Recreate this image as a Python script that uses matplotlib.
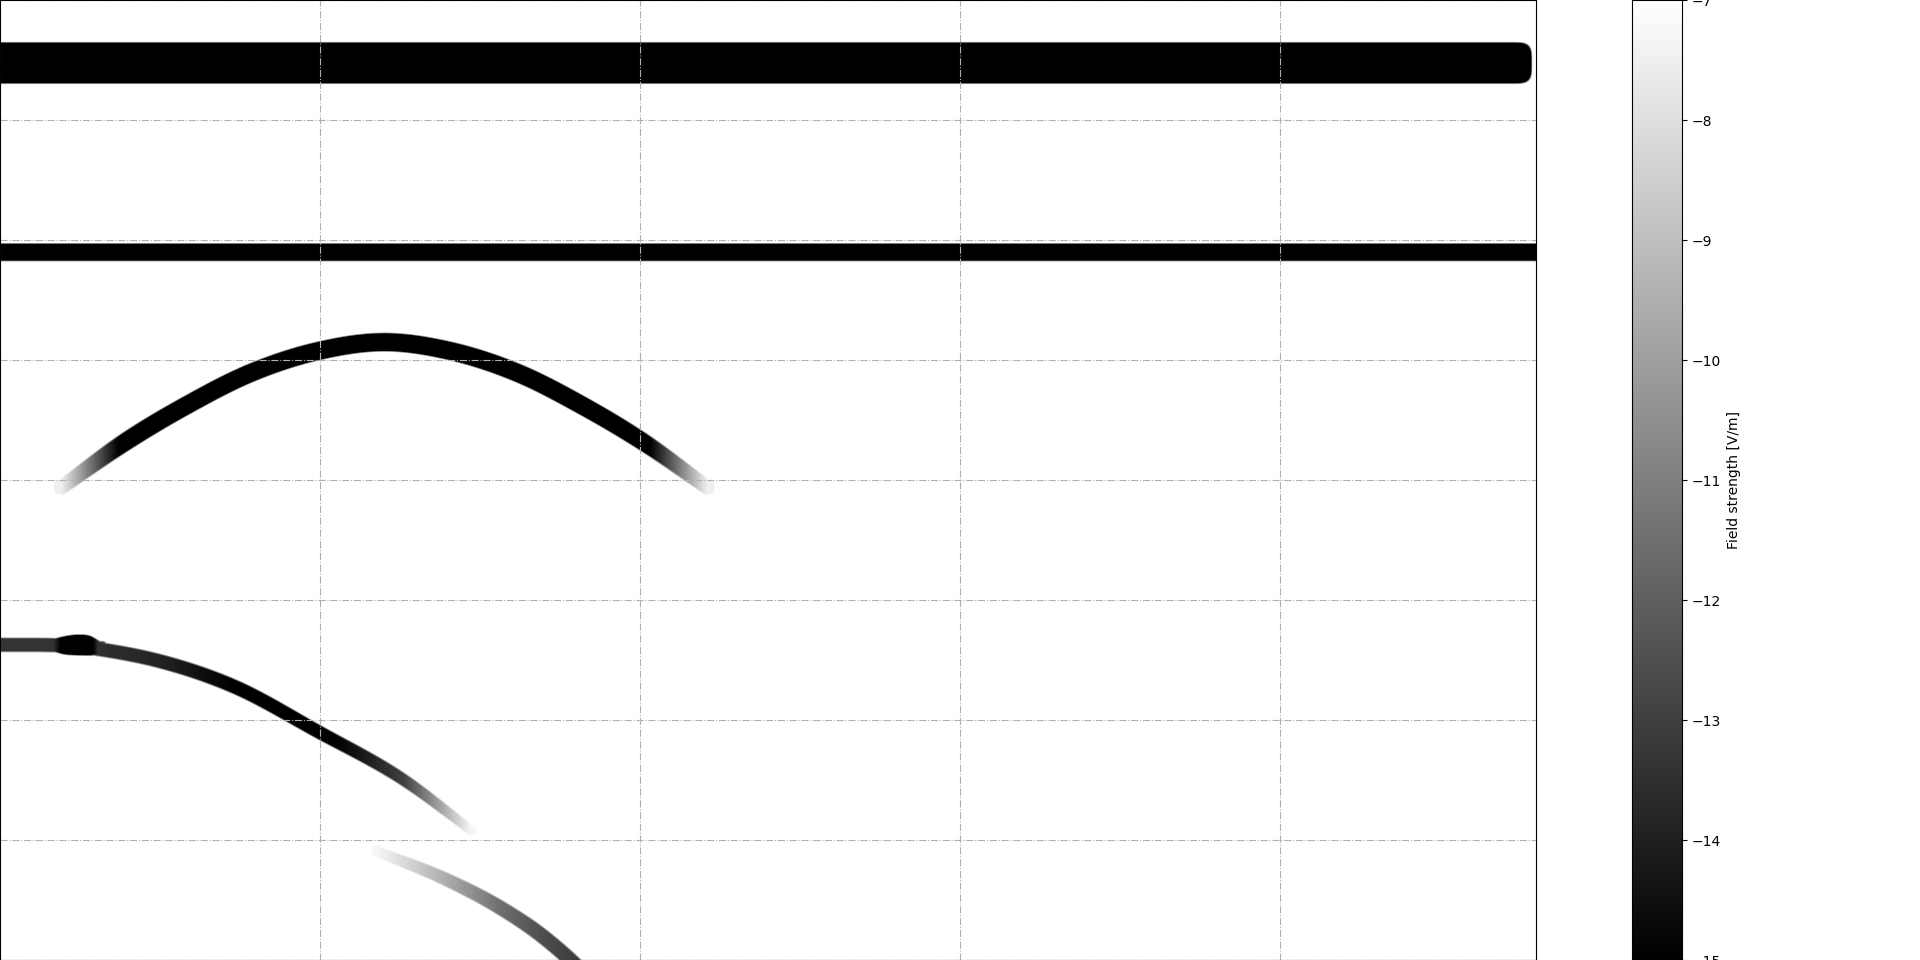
import numpy as np
import matplotlib
matplotlib.use("Agg")
import matplotlib.pyplot as plt

# axis ranges and background level of the field map
x_lim = (0.0, 24.0)
y_lim = (0.0, 8.0)
background_level = -7.0
cbar_range = (-15.0, -7.0)

# mode traces: centre line, half width (y units), level at centre
top_band_x = [0.0, 23.62]
top_band_y = [7.479, 7.479]
top_band_w = [0.171, 0.171]
top_band_lvl = [-16.0, -16.0]

mid_band_x = [0.0, 24.0]
mid_band_y = [5.90, 5.90]
mid_band_w = [0.072, 0.072]
mid_band_lvl = [-16.0, -16.0]

arc_x = [0.95, 1.9, 2.9, 3.9, 5.0, 6.0, 7.0, 8.1, 9.1, 10.1, 11.05]
arc_y = [3.94, 4.30, 4.62, 4.89, 5.08, 5.15, 5.08, 4.89, 4.62, 4.30, 3.94]
arc_w = [0.06, 0.074, 0.075, 0.075, 0.075, 0.075, 0.075, 0.075, 0.075, 0.072, 0.06]
arc_lvl = [-7.5, -15.5, -16.5, -16.5, -16.5, -16.5, -16.5, -16.5, -16.5, -15.5, -7.5]

low_x = [0.0, 0.85, 1.2, 1.53, 2.48, 3.64, 4.97, 6.3, 7.36]
low_y = [2.625, 2.622, 2.615, 2.59, 2.49, 2.28, 1.90, 1.50, 1.08]
low_w = [0.058, 0.058, 0.058, 0.058, 0.058, 0.058, 0.055, 0.05, 0.04]
low_lvl = [-13.4, -13.4, -13.4, -13.5, -13.9, -15.0, -15.5, -13.0, -7.3]

knot_x = [0.8, 1.0, 1.2, 1.4, 1.55]
knot_y = [2.622, 2.621, 2.624, 2.618, 2.60]
knot_w = [0.05, 0.075, 0.085, 0.08, 0.055]
knot_lvl = [-13.0, -16.0, -16.5, -16.0, -13.0]

tail_x = [5.89, 6.97, 7.81, 8.44, 8.9, 9.5]
tail_y = [0.90, 0.667, 0.433, 0.208, 0.0, -0.33]
tail_w = [0.045, 0.055, 0.06, 0.062, 0.062, 0.062]
tail_lvl = [-7.3, -9.6, -11.5, -12.5, -13.0, -13.5]

traces = [
    (top_band_x, top_band_y, top_band_w, top_band_lvl),
    (mid_band_x, mid_band_y, mid_band_w, mid_band_lvl),
    (arc_x, arc_y, arc_w, arc_lvl),
    (low_x, low_y, low_w, low_lvl),
    (knot_x, knot_y, knot_w, knot_lvl),
    (tail_x, tail_y, tail_w, tail_lvl),
]

nx, ny = 1536, 960
px_per_x = nx / (x_lim[1] - x_lim[0])
px_per_y = ny / (y_lim[1] - y_lim[0])


def hermite(xs, ys, xq):
    # smooth curve through the read points (cubic hermite, finite-difference tangents)
    xs = np.asarray(xs, float)
    ys = np.asarray(ys, float)
    if len(xs) < 3:
        return np.interp(xq, xs, ys)
    m = np.gradient(ys, xs)
    xc = np.clip(xq, xs[0], xs[-1])
    i = np.clip(np.searchsorted(xs, xc) - 1, 0, len(xs) - 2)
    h = xs[i + 1] - xs[i]
    t = (xc - xs[i]) / h
    h00 = 2 * t**3 - 3 * t**2 + 1
    h10 = t**3 - 2 * t**2 + t
    h01 = -2 * t**3 + 3 * t**2
    h11 = t**3 - t**2
    return h00 * ys[i] + h10 * h * m[i] + h01 * ys[i + 1] + h11 * h * m[i + 1]


def trace_field(xg, Y, xs, ys, ws, lvls, soft=0.022):
    xs = np.asarray(xs, float)
    yc = hermite(xs, ys, xg)
    w = hermite(xs, ws, xg)
    lv = np.interp(xg, xs, lvls)
    slope = np.gradient(yc, xg)
    s_px = slope * px_per_y / px_per_x
    d_perp = np.abs(Y - yc[None, :]) / np.sqrt(1 + s_px[None, :] ** 2)
    dx = np.maximum(np.maximum(xs[0] - xg, xg - xs[-1]), 0) * px_per_x / px_per_y
    d = (d_perp ** 4 + dx[None, :] ** 4) ** 0.25
    prof = np.clip((w[None, :] - d) / soft + 0.5, 0, 1)
    prof = prof * prof * (3 - 2 * prof)
    return background_level + (lv[None, :] - background_level) * prof


xg = np.linspace(x_lim[0], x_lim[1], nx)
yg = np.linspace(y_lim[0], y_lim[1], ny)
Y = np.repeat(yg[:, None], nx, axis=1)
field = np.full(Y.shape, background_level)
for t in traces:
    field = np.minimum(field, trace_field(xg, Y, *t))

fig = plt.figure(figsize=(19.2, 9.6), dpi=100)
ax = fig.add_axes([0.0, 0.0, 0.8, 1.0])
cax = fig.add_axes([0.85, 0.0, 0.026, 1.0])

im = ax.imshow(field, origin="lower", extent=[x_lim[0], x_lim[1], y_lim[0], y_lim[1]],
               aspect="auto", cmap="gray", vmin=cbar_range[0], vmax=cbar_range[1],
               interpolation="bilinear")
ax.set_xlim(*x_lim)
ax.set_ylim(*y_lim)
ax.set_xticks(np.arange(0, 25, 5))
ax.set_yticks(np.arange(0, 9, 1))
ax.grid(True, color="#b0b0b0", linestyle="-.", linewidth=0.8)

cb = fig.colorbar(im, cax=cax)
cb.set_label("Field strength [V/m]")

fig.savefig("out.png", dpi=100)
